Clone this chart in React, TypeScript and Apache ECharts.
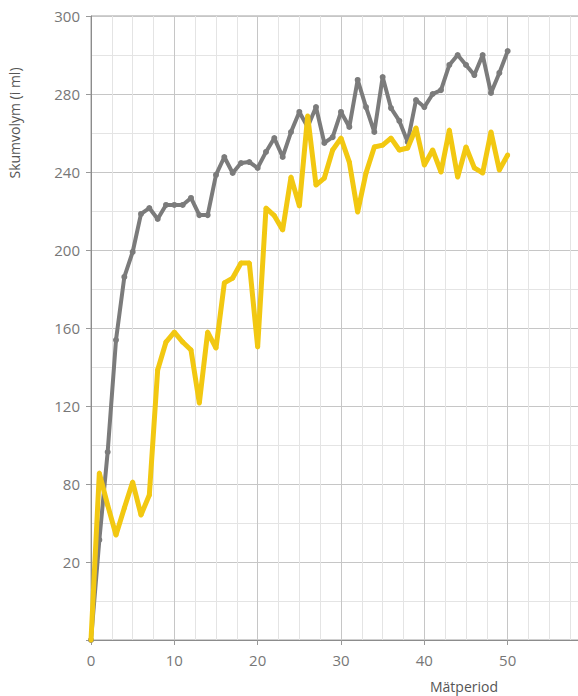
import React, { useEffect, useRef } from "react";
import * as echarts from "echarts";

const periods: number[] = Array.from({ length: 51 }, (_, i) => i);

const graySeries: number[] = [
  0, 51.3, 96.4, 153.8, 186.2, 199, 218.5, 221.5, 215.9, 223.1,
  223.1, 223.1, 226.7, 217.9, 217.9, 238.5, 247.7, 239.5, 244.6, 245.1,
  242.1, 250.3, 257.4, 247.7, 260.5, 270.8, 263.1, 273.3, 254.9, 257.9,
  270.8, 263.1, 287.2, 273.3, 260.5, 288.7, 272.8, 266.2, 255.4, 276.9,
  273.3, 280, 282, 294.9, 300, 294.9, 289.7, 300, 280.5, 290.8,
  302,
];

const yellowSeries: number[] = [
  0, 85.6, 69.2, 53.8, 67.7, 81, 64.1, 74.4, 138.5, 152.8,
  157.9, 152.8, 148.7, 121.5, 157.9, 149.7, 183.1, 185.6, 193.3, 193.3,
  150.3, 221.5, 217.6, 210.3, 237.4, 222.6, 268.7, 233.3, 236.9, 251.3,
  257.4, 245.1, 219.5, 239.5, 252.8, 253.8, 257.4, 251.3, 252.3, 262.6,
  243.6, 251.3, 240, 261.5, 237.4, 252.8, 242.1, 239.5, 260.5, 241,
  248.7,
];

const yTickLabels: string[] = ["", "20", "80", "120", "160", "200", "240", "280", "300"];
const xTickLabels: string[] = ["0", "10", "20", "30", "40", "50"];

const yAxisTitle = "Skumvolym (i ml)";
const xAxisTitle = "Mätperiod";

export default function App() {
  const ref = useRef<HTMLDivElement>(null);

  useEffect(() => {
    if (!ref.current) return;
    const chart = echarts.init(ref.current, null, { renderer: "svg" });
    const font = "'Open Sans', 'Noto Sans', sans-serif";
    chart.setOption({
      animation: false,
      textStyle: { fontFamily: font },
      grid: {
        left: 91,
        top: 16,
        bottom: 56,
        right: 29,
        show: true,
        borderColor: "#a0a0a0",
        borderWidth: 1,
      },
      xAxis: {
        type: "value",
        min: 0,
        max: 60,
        interval: 10,
        axisLine: { show: true, lineStyle: { color: "#8c8c8c", width: 1 } },
        axisTick: { show: true, length: 5, lineStyle: { color: "#999" } },
        axisLabel: {
          margin: 12,
          fontSize: 15,
          color: "#777",
          fontFamily: font,
          formatter: (v: number) => xTickLabels[Math.round(v / 10)] ?? "",
        },
        splitLine: { show: true, lineStyle: { color: "#c6c6c6", width: 1 } },
        minorTick: { show: true, splitNumber: 4, length: 0 },
        minorSplitLine: { show: true, lineStyle: { color: "#e4e4e4", width: 1 } },
      },
      yAxis: {
        type: "value",
        min: 0,
        max: 320,
        interval: 40,
        axisLine: { show: true, lineStyle: { color: "#8c8c8c", width: 1 } },
        axisTick: { show: true, length: 5, lineStyle: { color: "#999" } },
        axisLabel: {
          margin: 11,
          fontSize: 15,
          color: "#777",
          fontFamily: font,
          formatter: (v: number) => yTickLabels[Math.round(v / 40)] ?? "",
        },
        splitLine: { show: true, lineStyle: { color: "#c6c6c6", width: 1 } },
        minorTick: { show: true, splitNumber: 2, length: 0 },
        minorSplitLine: { show: true, lineStyle: { color: "#e4e4e4", width: 1 } },
      },
      series: [
        {
          type: "line",
          name: "grå",
          data: periods.map((p, i) => [p, graySeries[i]]),
          lineStyle: { color: "#7b7b7b", width: 4 },
          itemStyle: { color: "#7b7b7b" },
          symbol: "circle",
          symbolSize: 6,
          showSymbol: true,
          z: 2,
        },
        {
          type: "line",
          name: "gul",
          data: periods.map((p, i) => [p, yellowSeries[i]]),
          lineStyle: { color: "#f2c811", width: 5 },
          itemStyle: { color: "#f2c811" },
          symbol: "circle",
          symbolSize: 5,
          showSymbol: true,
          z: 3,
        },
      ],
      graphic: [
        {
          type: "text",
          x: 14,
          y: 123,
          rotation: Math.PI / 2,
          style: {
            text: yAxisTitle,
            fontSize: 14,
            fill: "#555",
            fontFamily: font,
            align: "center",
            verticalAlign: "middle",
          },
        },
        {
          type: "text",
          x: 464,
          y: 686,
          style: {
            text: xAxisTitle,
            fontSize: 14,
            fill: "#555",
            fontFamily: font,
            align: "center",
            verticalAlign: "middle",
          },
        },
      ],
    });
    return () => chart.dispose();
  }, []);

  return (
    <div
      style={{
        position: "fixed",
        left: 0,
        top: 0,
        width: 578,
        height: 696,
        overflow: "hidden",
        background: "#fff",
      }}
    >
      <div ref={ref} style={{ width: 620, height: 696 }} />
    </div>
  );
}
